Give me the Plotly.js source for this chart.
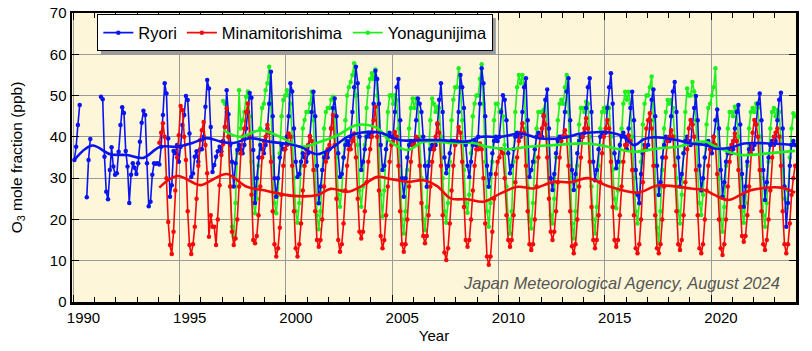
<!DOCTYPE html>
<html>
<head>
<meta charset="utf-8">
<script src="https://cdn.plot.ly/plotly-3.0.1.min.js"></script>
<style>html,body{margin:0;padding:0;background:#fff;}#chart{width:812px;height:351px;position:relative;}</style>
</head>
<body>
<div id="chart"></div>
<script>
// Monthly O3 mole fraction (ppb), one row per year, Jan..Dec
const ryoriStartYear = 1990;
const ryori = [
  34.4, 37.6, 42.9, 47.7, null, null, null, 25.4, 34.4, 39.5, null, null,
  null, null, null, 49.7, 49.1, 35.2, 26.7, 24.9, 32.0, 37.5, 32.8, 30.8,
  31.2, 36.4, 42.9, 47.2, 45.8, 36.6, 32.8, 24.0, 30.8, 33.6, 32.5, 31.0,
  33.6, 38.8, 43.4, 46.3, 45.3, 33.6, 23.2, 24.3, 30.8, 33.6, 33.5, 33.6,
  33.3, 37.6, 45.3, 53.0, 50.5, 39.6, 25.5, 28.3, 36.6, 36.0, 38.0, 34.0,
  37.6, 42.9, 45.3, 49.9, 48.9, 40.8, 30.3, 31.1, 35.2, 36.5, 34.0, 37.0,
  37.0, 40.0, 47.3, 53.8, 51.7, 42.4, 31.5, 33.2, 35.2, 36.5, 37.6, 36.5,
  39.0, 42.4, 51.3, 45.5, 38.0, 34.0, 28.0, 33.6, 36.8, 38.0, 37.0, 36.0,
  38.0, 42.0, 46.0, 50.6, 49.5, 36.8, 24.0, 30.0, 35.0, 38.0, 37.0, 36.0,
  38.0, 42.0, 48.0, 55.8, 45.0, 30.0, 25.5, 30.0, 35.0, 38.0, 37.0, 37.0,
  40.0, 45.0, 53.0, 51.0, 42.0, 34.0, 30.3, 31.0, 34.0, 36.0, 35.0, 34.0,
  36.0, 40.0, 46.0, 50.9, 45.0, 33.0, 23.9, 28.0, 32.0, 35.0, 36.0, 35.0,
  37.0, 42.0, 47.0, 49.3, 45.0, 36.0, 30.3, 31.0, 35.0, 38.0, 39.0, 38.0,
  40.0, 46.0, 52.0, 57.0, 53.0, 40.0, 32.0, 34.0, 37.0, 40.0, 41.0, 40.0,
  41.0, 48.0, 56.0, 54.0, 48.0, 38.0, 32.0, 33.0, 37.0, 40.0, 41.0, 40.0,
  40.0, 46.0, 52.0, 54.0, 44.0, 30.0, 25.5, 30.0, 35.0, 38.0, 39.0, 38.0,
  39.0, 44.0, 49.3, 48.0, 46.0, 40.0, 33.0, 27.9, 33.0, 37.0, 38.0, 37.0,
  38.0, 43.0, 49.0, 53.0, 46.0, 35.0, 31.2, 33.0, 36.0, 39.0, 39.0, 38.0,
  39.0, 46.0, 55.0, 52.0, 47.0, 38.0, 33.0, 30.3, 34.0, 38.0, 39.0, 38.0,
  40.0, 48.0, 56.6, 53.0, 45.0, 33.0, 27.9, 31.0, 36.0, 39.0, 40.0, 39.0,
  40.0, 46.0, 50.1, 49.0, 44.0, 36.0, 31.2, 33.0, 37.0, 40.0, 41.0, 40.0,
  40.0, 46.0, 52.0, 54.2, 44.0, 30.3, 32.0, 34.0, 37.0, 40.0, 41.0, 40.0,
  40.0, 45.0, 49.0, 51.5, 42.0, 30.0, 27.1, 31.0, 36.0, 39.0, 40.0, 40.0,
  40.0, 46.0, 51.0, 54.2, 44.0, 32.0, 27.1, 31.0, 36.0, 39.0, 40.0, 40.0,
  41.0, 47.0, 52.0, 54.2, 46.0, 34.0, 29.5, 32.0, 37.0, 40.0, 41.0, 41.0,
  41.0, 47.0, 52.0, 55.4, 48.0, 36.0, 32.4, 34.0, 38.0, 40.0, 41.0, 40.0,
  37.0, 42.0, 47.0, 50.9, 44.0, 32.0, 26.0, 23.9, 31.0, 36.0, 38.0, 37.0,
  38.0, 44.0, 49.0, 51.5, 45.0, 33.0, 25.9, 29.0, 35.0, 38.0, 40.0, 39.0,
  39.0, 45.0, 51.0, 53.3, 46.0, 35.0, 28.0, 31.0, 36.0, 39.0, 40.0, 39.0,
  38.0, 43.0, 47.0, 49.9, 44.0, 33.0, 27.0, 30.0, 35.0, 38.0, 39.0, 38.0,
  36.0, 40.0, 44.0, 46.6, 42.0, 32.0, 25.5, 29.0, 34.0, 36.0, 37.0, 36.0,
  37.0, 42.0, 46.0, 47.7, 43.0, 31.0, 23.1, 28.0, 34.0, 37.0, 38.0, 37.0,
  38.0, 43.0, 48.0, 50.5, 44.0, 32.0, 24.7, 29.0, 35.0, 38.0, 39.0, 38.0,
  39.0, 44.0, 49.0, 50.7, 42.0, 28.0, 18.2, 24.0, 33.0, 38.0, 39.0, 38.0
];

const minamiStartYear = 1994;
const minamitorishima = [
  38.6, 41.0, 43.3, 40.0, 30.0, 19.4, 13.8, 11.6, 17.0, 27.0, 35.0, 40.4,
  47.5, 46.5, 40.0, 34.4, 22.0, 13.8, 11.6, 14.0, 18.2, 25.0, 33.0, 39.2,
  41.6, 43.6, 38.0, 31.2, 15.8, 21.0, 18.2, 18.2, 13.8, 20.0, 28.3, 35.6,
  38.3, 42.4, 46.9, 40.0, 28.0, 17.0, 13.8, 15.4, 20.0, 28.0, 36.0, 40.0,
  42.0, 46.0, 48.1, 40.0, 26.0, 15.0, 14.2, 16.0, 21.0, 28.0, 35.0, 39.0,
  40.0, 42.9, 41.0, 34.0, 22.0, 14.0, 11.0, 13.0, 18.0, 26.0, 33.0, 37.0,
  38.0, 40.8, 40.0, 33.0, 22.0, 13.0, 11.0, 14.0, 19.0, 27.0, 33.0, 37.0,
  38.0, 40.2, 39.0, 32.0, 22.0, 15.0, 13.4, 15.0, 20.0, 28.0, 34.0, 37.0,
  38.0, 42.0, 45.3, 38.0, 25.0, 15.0, 12.2, 14.0, 19.0, 27.0, 33.0, 37.0,
  37.0, 39.0, 40.8, 35.0, 25.0, 17.0, 15.4, 17.0, 22.0, 29.0, 34.0, 37.0,
  40.0, 44.0, 47.3, 40.0, 27.0, 16.0, 13.0, 15.0, 21.0, 28.0, 34.0, 38.0,
  39.0, 41.2, 40.0, 33.0, 22.0, 14.0, 12.2, 14.0, 20.0, 28.0, 34.0, 38.0,
  38.0, 40.0, 39.5, 33.0, 24.0, 16.0, 14.2, 16.0, 21.0, 28.0, 34.0, 37.0,
  40.0, 43.3, 41.0, 33.0, 21.0, 12.0, 10.2, 13.0, 19.0, 27.0, 33.0, 38.0,
  39.0, 42.4, 41.0, 34.0, 23.0, 15.0, 13.4, 15.0, 20.0, 27.0, 33.0, 37.0,
  37.0, 38.4, 37.0, 30.0, 19.0, 11.0, 9.0, 11.0, 17.0, 25.0, 31.0, 34.0,
  35.0, 37.0, 36.0, 30.0, 21.0, 15.0, 13.4, 15.0, 21.0, 29.0, 35.0, 39.0,
  41.0, 43.3, 41.0, 33.0, 22.0, 14.0, 12.6, 14.0, 20.0, 28.0, 35.0, 40.0,
  42.0, 45.3, 43.0, 35.0, 25.0, 17.0, 15.0, 17.0, 22.0, 29.0, 35.0, 39.0,
  40.0, 41.6, 40.0, 33.0, 22.0, 13.5, 11.8, 14.0, 20.0, 28.0, 35.0, 40.0,
  42.0, 44.5, 42.0, 34.0, 23.0, 15.0, 13.0, 15.0, 21.0, 29.0, 36.0, 40.0,
  42.0, 44.1, 42.0, 34.0, 23.0, 15.0, 13.4, 15.0, 21.0, 28.0, 34.0, 38.0,
  38.0, 40.4, 39.0, 32.0, 21.0, 13.0, 11.8, 14.0, 20.0, 29.0, 37.0, 42.0,
  44.0, 45.7, 42.0, 33.0, 21.0, 13.0, 11.8, 14.0, 20.0, 28.0, 35.0, 39.0,
  40.0, 41.6, 40.0, 33.0, 22.0, 14.0, 12.6, 15.0, 21.0, 29.0, 37.0, 42.0,
  44.1, 43.0, 40.0, 32.0, 21.0, 13.0, 11.8, 14.0, 20.0, 27.0, 33.0, 37.0,
  38.0, 40.0, 38.0, 31.0, 20.0, 13.0, 11.4, 14.0, 20.0, 28.0, 34.0, 38.0,
  39.0, 40.8, 39.0, 32.0, 23.0, 16.0, 14.6, 16.0, 21.0, 28.0, 36.0, 41.0,
  44.1, 43.0, 40.0, 32.0, 22.0, 14.0, 12.6, 15.0, 20.0, 27.0, 35.0, 40.0,
  41.0, 42.0, 40.0, 33.0, 22.0, 14.0, 11.8, 14.0, 19.0, 26.0, 30.0, 33.0
];

const yonaStartYear = 1997;
const yonagunijima = [
  48.7, 48.0, 46.0, 40.0, 28.0, 18.2, 15.8, 24.0, 36.0, 51.3, 42.0, 44.0,
  46.0, 49.7, 51.0, 45.0, 34.0, 24.0, 21.5, 25.0, 33.0, 42.0, 47.0, 48.0,
  51.3, 53.0, 57.0, 48.0, 35.0, 24.0, 21.5, 26.0, 36.0, 45.0, 48.9, 50.0,
  51.3, 50.0, 48.0, 40.0, 30.0, 22.0, 19.2, 24.0, 33.0, 42.0, 44.1, 46.0,
  46.0, 48.0, 50.9, 44.0, 32.0, 21.0, 17.6, 22.0, 32.0, 42.0, 46.0, 47.0,
  47.0, 49.0, 49.7, 45.0, 35.0, 26.0, 23.1, 27.0, 35.0, 44.0, 50.0, 52.0,
  53.3, 55.0, 57.8, 50.0, 38.0, 27.0, 23.1, 28.0, 38.0, 47.0, 52.0, 54.0,
  55.4, 54.0, 56.3, 50.0, 38.0, 26.0, 20.7, 27.0, 37.0, 46.0, 50.0, 50.1,
  48.0, 50.1, 49.0, 42.0, 30.0, 20.0, 16.6, 22.0, 32.0, 42.0, 47.0, 49.3,
  47.0, 49.3, 48.0, 40.0, 30.0, 20.0, 17.4, 23.0, 34.0, 44.0, 49.3, 48.0,
  46.0, 47.3, 47.0, 40.0, 30.0, 22.0, 19.2, 24.0, 34.0, 44.0, 49.0, 52.0,
  52.0, 56.6, 52.0, 44.0, 32.0, 24.0, 21.6, 26.0, 36.0, 45.0, 48.0, 50.0,
  50.0, 54.0, 57.6, 48.0, 34.0, 22.0, 18.2, 24.0, 34.0, 44.0, 48.0, 48.0,
  46.0, 46.5, 45.0, 38.0, 28.0, 20.0, 16.6, 22.0, 34.0, 46.0, 52.0, 55.0,
  53.0, 55.0, 52.0, 42.0, 28.0, 20.0, 17.8, 24.0, 34.0, 42.0, 46.0, 46.0,
  46.0, 46.5, 48.9, 40.0, 30.0, 21.0, 19.0, 25.0, 35.0, 44.0, 48.0, 49.0,
  48.0, 52.0, 55.0, 46.0, 30.0, 19.0, 15.4, 22.0, 33.0, 43.0, 47.0, 47.0,
  46.0, 48.5, 48.0, 40.0, 28.0, 20.0, 16.6, 23.0, 33.0, 42.0, 46.0, 47.0,
  46.0, 47.3, 47.0, 40.0, 32.0, 25.0, 22.7, 27.0, 34.0, 42.0, 48.0, 50.9,
  49.0, 50.9, 48.0, 40.0, 30.0, 22.0, 19.0, 24.0, 34.0, 43.0, 48.0, 50.0,
  50.0, 52.0, 54.6, 44.0, 28.0, 18.0, 14.2, 22.0, 32.0, 42.0, 46.0, 48.9,
  48.0, 48.9, 47.0, 40.0, 30.0, 22.0, 19.0, 26.0, 36.0, 46.0, 51.7, 50.0,
  50.0, 53.3, 51.0, 44.0, 32.0, 24.0, 21.1, 26.0, 35.0, 43.0, 47.0, 48.0,
  50.0, 52.0, 56.6, 44.0, 30.0, 20.0, 17.0, 23.0, 33.0, 42.0, 46.0, 46.0,
  45.0, 47.3, 46.0, 40.0, 30.0, 22.0, 19.2, 24.0, 33.0, 42.0, 46.0, 47.0,
  46.0, 48.1, 47.0, 40.0, 30.0, 21.0, 18.2, 24.0, 34.0, 42.0, 46.0, 47.0,
  45.0, 46.5, 46.0, 40.0, 32.0, 25.0, 22.7, 27.0, 35.0, 42.0, 45.7, 45.0
];

// Smoothed trend curves (decimal year, ppb)
const ryoriTrendYear = [1990.04,1990.87,1991.72,1992.52,1993.28,1994.08,1994.88,1995.63,1996.29,1996.9,1997.52,1998.32,1999.12,2000.06,2000.67,2001.48,2002.23,2002.89,2003.5,2004.44,2005.38,2006.33,2007.27,2008.54,2009.15,2010.1,2011.04,2011.98,2013.07,2013.87,2015.14,2015.9,2016.37,2016.84,2017.31,2018.44,2019.05,2019.76,2020.14,2020.94,2021.55,2022.82,2023.96];
const ryoriTrend     = [34.4,37.9,35.8,35.6,34.9,37.6,37.6,38.6,39.7,38.9,38.5,39.7,38.9,38.3,37.6,35.8,37.6,40.0,41.0,41.0,39.2,39.2,39.2,38.9,40.0,40.0,40.8,39.6,39.8,40.8,41.1,40.0,38.0,39.4,39.9,39.2,38.4,38.0,37.2,37.4,38.4,38.4,38.0];
const minamiTrendYear = [1994.04,1994.88,1995.96,1996.6,1997.22,1998.16,1999.11,2000.33,2001.48,2002.1,2002.9,2003.5,2004.3,2004.92,2005.72,2006.47,2007.13,2007.74,2008.54,2009.3,2010.1,2010.9,2011.65,2012.6,2013.4,2014.2,2015.14,2016.55,2017.5,2019.05,2019.76,2020.14,2020.8,2021.41,2021.88,2023.29,2023.96];
const minamiTrend     = [27.7,30.5,28.3,29.8,31.0,27.9,26.9,25.7,25.9,27.4,26.7,27.9,30.3,29.8,29.1,29.5,28.0,25.1,24.9,24.3,26.3,27.9,27.5,29.1,29.0,30.0,28.1,26.5,28.2,27.5,27.0,26.0,24.7,26.0,27.1,27.7,26.5];
const yonaTrendYear = [1997.05,1997.85,1998.79,1999.73,2000.67,2001.61,2002.42,2003.36,2004.3,2004.92,2005.72,2006.47,2007.88,2008.82,2009.48,2010.43,2011.37,2012.6,2014.2,2015.14,2016.37,2017.5,2018.44,2019.05,2019.76,2020.14,2020.8,2021.41,2022.68,2023.96];
const yonaTrend     = [41.6,40.0,41.6,40.0,37.6,38.8,40.4,42.9,42.1,38.8,36.8,38.8,38.5,38.5,37.6,37.0,37.6,38.0,38.4,37.6,36.4,37.2,37.6,38.4,38.8,37.8,36.4,35.6,36.0,36.6];

const xTickYears = [1990, 1995, 2000, 2005, 2010, 2015, 2020];
const seriesNames = ['Ryori', 'Minamitorishima', 'Yonagunijima'];
const seriesColors = ['#0a14f0', '#f20a0a', '#1ef01e'];

function monthlyX(startYear, n) {
  const xs = [];
  for (let i = 0; i < n; i++) xs.push(startYear + Math.floor(i / 12) + ((i % 12) + 0.5) / 12);
  return xs;
}

function dataTrace(name, color, startYear, vals, rank) {
  return {
    type: 'scatter', mode: 'lines+markers', name: name,
    x: monthlyX(startYear, vals.length), y: vals,
    line: {color: color, width: 1.6}, marker: {color: color, size: 4.5},
    connectgaps: false, legendrank: rank
  };
}
function trendTrace(color, xs, ys) {
  return {
    type: 'scatter', mode: 'lines', x: xs, y: ys, showlegend: false,
    line: {color: color, width: 2.6, shape: 'spline', smoothing: 1}, hoverinfo: 'skip'
  };
}

const traces = [
  dataTrace(seriesNames[2], seriesColors[2], yonaStartYear, yonagunijima, 3),
  dataTrace(seriesNames[0], seriesColors[0], ryoriStartYear, ryori, 1),
  dataTrace(seriesNames[1], seriesColors[1], minamiStartYear, minamitorishima, 2),
  trendTrace(seriesColors[2], yonaTrendYear, yonaTrend),
  trendTrace(seriesColors[0], ryoriTrendYear, ryoriTrend),
  trendTrace(seriesColors[1], minamiTrendYear, minamiTrend)
];

const font = 'Liberation Sans, Arial, Helvetica, sans-serif';
const M = {l: 72, r: 16, t: 13, b: 49};
const layout = {
  width: 812, height: 351,
  margin: M,
  paper_bgcolor: '#ffffff', plot_bgcolor: '#fdf6d8',
  font: {family: font, size: 15, color: '#000'},
  showlegend: true,
  legend: {
    orientation: 'h', x: 0.035, y: 0.995, xanchor: 'left', yanchor: 'top',
    bgcolor: '#ffffff', bordercolor: '#000', borderwidth: 1,
    font: {family: font, size: 16.5, color: '#000'}, traceorder: 'normal'
  },
  xaxis: {
    range: [1989.93, 2024.0], tickmode: 'array', tickvals: xTickYears,
    ticktext: xTickYears.map(String), ticklabelshift: 10,
    showgrid: true, gridcolor: '#9a9a9a', gridwidth: 1,
    ticks: 'inside', ticklen: 7, tickcolor: '#000', tickwidth: 1,
    minor: {dtick: 1, tick0: 1990, ticks: 'inside', ticklen: 5, tickcolor: '#000', showgrid: false},
    showline: true, linecolor: '#000', linewidth: 2.5, mirror: 'allticks',
    zeroline: false, tickfont: {size: 15},
    title: {text: 'Year', font: {size: 15}, standoff: 6}
  },
  yaxis: {
    range: [0, 70], dtick: 10, tick0: 0,
    showgrid: true, gridcolor: '#9a9a9a', gridwidth: 1,
    ticks: 'inside', ticklen: 7, tickcolor: '#000',
    showline: true, linecolor: '#000', linewidth: 2.5, mirror: 'allticks',
    zeroline: false, tickfont: {size: 15},
    title: {text: 'O<sub>3</sub> mole fraction (ppb)', font: {size: 15.5}, standoff: 24}
  },
  annotations: [{
    xref: 'paper', yref: 'paper', x: 0.981, y: 0.066, xanchor: 'right', yanchor: 'middle',
    text: '<i>Japan Meteorological Agency, August 2024</i>', showarrow: false,
    font: {family: font, size: 16.5, color: '#555555'}
  }]
};

const gd = document.getElementById('chart');
Plotly.newPlot(gd, traces, layout, {displayModeBar: false, staticPlot: true}).then(function () {
  // drop shadow behind the legend box, sized from the rendered legend
  const bg = gd.querySelector('.legend .bg');
  if (!bg) return;
  const r = bg.getBoundingClientRect();
  const c = gd.getBoundingClientRect();
  const pw = 812 - M.l - M.r, ph = 351 - M.t - M.b;
  const off = 3;
  const px = v => (v - c.left - M.l) / pw;
  const py = v => 1 - (v - c.top - M.t) / ph;
  return Plotly.relayout(gd, {shapes: [{
    type: 'rect', xref: 'paper', yref: 'paper', layer: 'above',
    x0: px(r.left + off), x1: px(r.right + off), y0: py(r.bottom + off), y1: py(r.top + off),
    fillcolor: '#9a9a9a', line: {width: 0}
  }]});
});
</script>
</body>
</html>
